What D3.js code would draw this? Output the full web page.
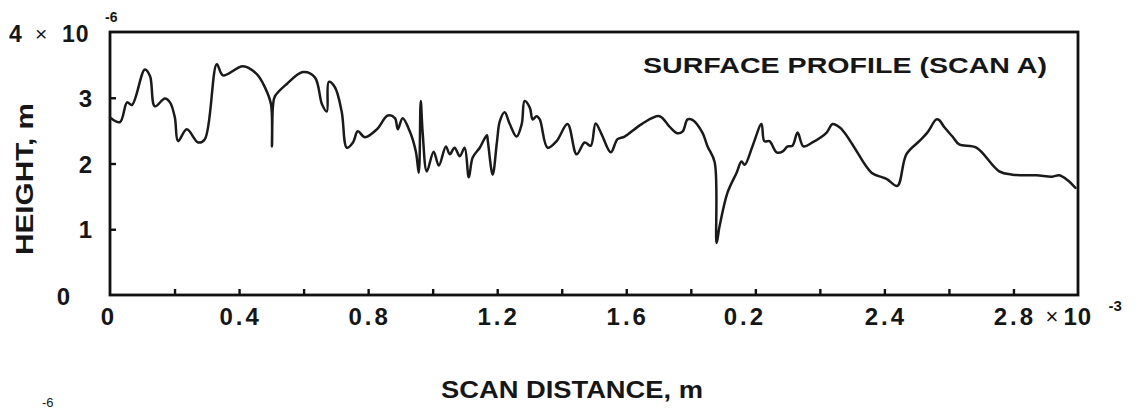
<!DOCTYPE html>
<html>
<head>
<meta charset="utf-8">
<script src="https://cdn.jsdelivr.net/npm/d3@7"></script>
<style>
  html, body { margin: 0; padding: 0; background: #fff; }
  svg { display: block; }
  text { font-family: "Liberation Sans", Arial, Helvetica, sans-serif; fill: #161616; }
</style>
</head>
<body>
<svg id="chart" width="1142" height="409"></svg>
<script>
// Scan distance in units of 1e-3 m
const scanDistance = [0.000,0.031,0.053,0.068,0.108,0.124,0.139,0.170,0.186,0.201,0.211,0.238,0.273,0.294,0.331,0.350,0.412,0.455,0.480,0.499,0.502,0.505,0.511,0.548,0.598,0.635,0.657,0.672,0.678,0.697,0.718,0.734,0.753,0.768,
  0.790,0.827,0.861,0.883,0.892,0.907,0.929,0.948,0.957,0.963,0.969,0.982,1.003,1.019,1.041,1.053,1.068,1.084,1.099,1.112,1.124,1.146,1.168,1.171,1.186,1.199,1.208,1.223,1.239,1.260,1.276,1.285,1.301,1.310,1.322,1.332,1.356,1.384,1.418,1.446,1.471,1.490,
  1.505,1.524,1.552,1.573,1.595,1.648,1.703,1.734,1.759,1.775,1.790,1.806,1.836,1.852,1.874,1.880,1.889,1.914,1.942,1.957,1.967,1.991,2.019,2.028,2.044,2.066,2.084,2.100,2.115,2.131,2.149,2.177,2.221,2.239,2.261,
  2.276,2.301,2.360,2.394,2.409,2.440,2.468,2.508,2.533,2.561,2.570,2.586,2.611,2.632,2.685,2.756,2.797,2.871,2.920,2.942,2.967,2.992];
// Surface height in units of 1e-6 m
const surfaceHeight = [2.70,2.63,2.93,2.89,3.43,3.33,2.87,2.99,2.93,2.70,2.34,2.52,2.32,2.37,3.51,3.34,3.48,3.36,3.16,2.90,2.26,2.87,3.02,3.21,3.39,3.31,2.90,2.79,3.24,3.16,2.79,2.24,2.32,2.49,
  2.40,2.52,2.73,2.69,2.52,2.69,2.49,2.18,1.86,2.95,2.47,1.88,2.18,1.97,2.26,2.14,2.24,2.11,2.24,1.79,2.09,2.24,2.43,2.34,1.83,2.32,2.64,2.78,2.60,2.41,2.60,2.95,2.85,2.67,2.72,2.67,2.24,2.34,2.60,2.14,2.32,2.27,
  2.61,2.44,2.17,2.37,2.41,2.60,2.72,2.56,2.46,2.49,2.67,2.66,2.47,2.26,2.02,0.79,1.04,1.56,1.86,2.03,1.98,2.26,2.60,2.34,2.34,2.17,2.18,2.26,2.27,2.47,2.26,2.32,2.47,2.60,2.55,
  2.47,2.29,1.86,1.79,1.76,1.66,2.14,2.34,2.47,2.67,2.66,2.55,2.41,2.29,2.24,1.88,1.83,1.82,1.80,1.82,1.75,1.63];

const xTickValues = [0.2,0.4,0.6,0.8,1.0,1.2,1.4,1.6,1.8,2.0,2.2,2.4,2.6,2.8];
const xLabelValues = [0, 0.4, 0.8, 1.2, 1.6, 2.0, 2.4, 2.8];
const xLabelTexts  = ["0", "0.4", "0.8", "1.2", "1.6", "0.2", "2.4", "2.8"];
const yTickValues = [1, 2, 3];
const yLabelValues = [0, 1, 2, 3];
const yLabelTexts  = ["0", "1", "2", "3"];
const titleText = "SURFACE PROFILE (SCAN A)";
const xTitle = "SCAN DISTANCE,  m";
const yTitle = "HEIGHT,  m";

const svg = d3.select("#chart");
const x = d3.scaleLinear().domain([0, 3]).range([110, 1078]);
const y = d3.scaleLinear().domain([0, 4]).range([295, 32]);

// inward ticks
svg.append("g").attr("transform", `translate(0,${y(0)})`)
  .call(d3.axisBottom(x).tickValues(xTickValues).tickSize(-6).tickFormat(""))
  .call(g => g.select(".domain").remove())
  .selectAll("line").attr("stroke", "#111").attr("stroke-width", 2.4);
svg.append("g").attr("transform", `translate(${x(0)},0)`)
  .call(d3.axisLeft(y).tickValues(yTickValues).tickSize(-6).tickFormat(""))
  .call(g => g.select(".domain").remove())
  .selectAll("line").attr("stroke", "#111").attr("stroke-width", 2.4);

// frame
svg.append("rect")
  .attr("x", x(0)).attr("y", y(4))
  .attr("width", x(3) - x(0)).attr("height", y(0) - y(4))
  .attr("fill", "none").attr("stroke", "#111").attr("stroke-width", 2.8);

// x labels
svg.append("g").selectAll("text").data(xLabelValues).join("text")
  .attr("x", (d, i) => x(d) + (xLabelTexts[i] === "0.2" ? -12 : 0) + (xLabelTexts[i].length > 1 ? 1.5 : -1))
  .attr("y", 325)
  .attr("text-anchor", "middle")
  .attr("font-size", 24).attr("font-weight", "bold")
  .attr("letter-spacing", d => 3)
  .text((d, i) => xLabelTexts[i]);
svg.append("text").attr("x", x(2.8) + 32).attr("y", 324).attr("font-size", 22).text("×");
svg.append("text").attr("x", x(2.8) + 50).attr("y", 325).attr("font-size", 24).attr("font-weight", "bold").attr("letter-spacing", 1).text("10");
svg.append("text").attr("x", x(2.8) + 95).attr("y", 311).attr("font-size", 15).attr("font-weight", "bold").text("-3");

// y labels
svg.append("g").selectAll("text").data(yLabelValues).join("text")
  .attr("x", d => d === 0 ? 70 : 92)
  .attr("y", d => y(d) + 9 + (d === 0 ? 1 : 0))
  .attr("text-anchor", "end")
  .attr("font-size", 24).attr("font-weight", "bold")
  .text((d, i) => yLabelTexts[i]);
svg.append("text").attr("x", 9).attr("y", 42).attr("font-size", 23).attr("font-weight", "bold").text("4");
svg.append("text").attr("x", 35).attr("y", 41).attr("font-size", 21).text("×");
svg.append("text").attr("x", 62).attr("y", 42).attr("font-size", 23).attr("font-weight", "bold").attr("letter-spacing", 1).text("10");
svg.append("text").attr("x", 105).attr("y", 22).attr("font-size", 14).attr("font-weight", "bold").text("-6");

// title
svg.append("text").attr("x", 643).attr("y", 73)
  .attr("font-size", 22).attr("font-weight", "bold")
  .attr("textLength", 404).attr("lengthAdjust", "spacingAndGlyphs")
  .text(titleText);

// axis titles
svg.append("text").attr("transform", "translate(33,179) rotate(-90)")
  .attr("text-anchor", "middle").attr("font-size", 24).attr("font-weight", "bold")
  .attr("textLength", 152).attr("lengthAdjust", "spacingAndGlyphs")
  .text(yTitle);
svg.append("text").attr("x", 572).attr("y", 398)
  .attr("text-anchor", "middle").attr("font-size", 23).attr("font-weight", "bold")
  .attr("textLength", 262).attr("lengthAdjust", "spacingAndGlyphs")
  .text(xTitle);

// stray exponent from adjoining figure
svg.append("text").attr("x", 42).attr("y", 407).attr("font-size", 13).attr("fill", "#555").text("-6");

// profile line
const pts = scanDistance.map((d, i) => [d, surfaceHeight[i]]);
svg.append("path").datum(pts)
  .attr("fill", "none").attr("stroke", "#1a1a1a").attr("stroke-width", 2.5)
  .attr("stroke-linejoin", "round").attr("stroke-linecap", "round")
  .attr("d", d3.line().curve(d3.curveCatmullRom.alpha(0.5)).x(d => x(d[0])).y(d => y(d[1])));
</script>
</body>
</html>
